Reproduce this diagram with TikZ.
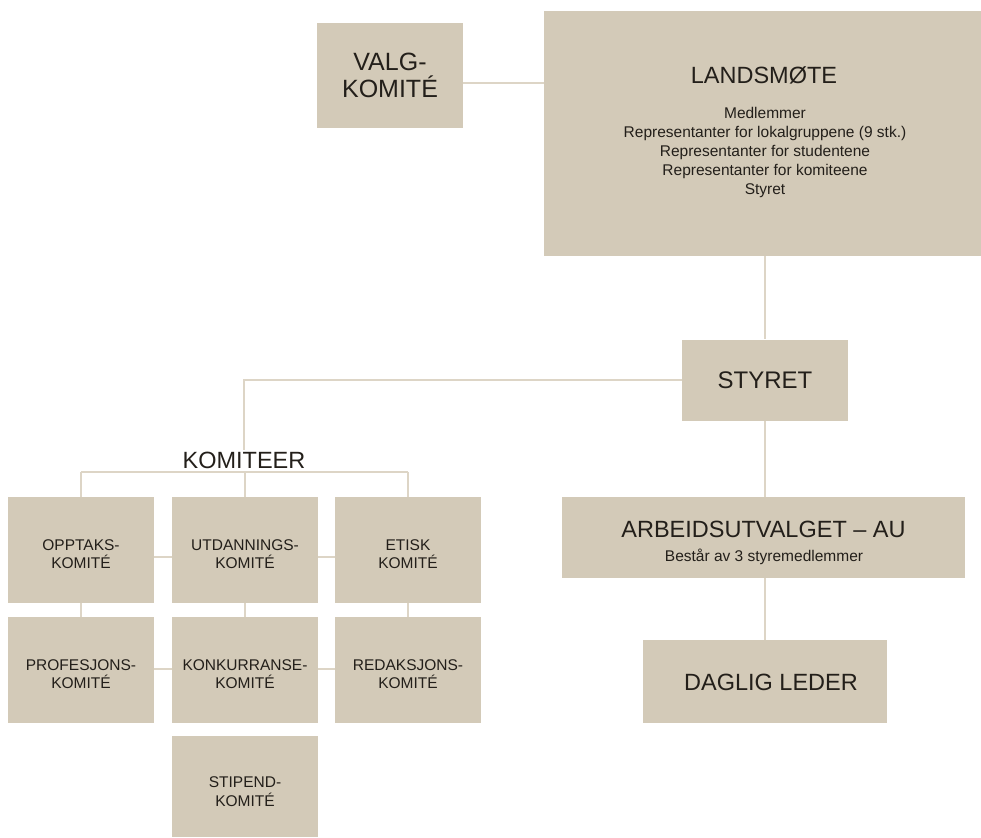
\documentclass[tikz,border=0pt]{standalone}
\usepackage{fontspec}
\setmainfont{Liberation Sans}
\definecolor{boxc}{HTML}{D3CAB8}
\definecolor{linec}{HTML}{DDD5C6}
\definecolor{txtc}{HTML}{231F1A}
\newcommand{\kombox}[5][106pt]{%
  \node[kbox, minimum height=#1] (#2) at (#3) {};
  \node[ktext] (#2-t) at ([yshift=-#4]#2.center) {#5};}
\begin{document}
\begin{tikzpicture}[x=1pt,y=-1pt,
  box/.style={fill=boxc, draw=none, inner sep=0pt, text=txtc, align=center},
  kbox/.style={box, minimum width=146pt},
  ktext/.style={text=txtc, align=center, inner sep=0pt, font=\fontsize{15.5}{18.5}\selectfont},
  conn/.style={draw=linec, line width=1.2pt}]
\useasboundingbox (0,0) rectangle (981,837);

% top
\node[box, minimum width=146pt, minimum height=105pt, font=\fontsize{25}{27}\selectfont] (valg) at (390,75.5) {VALG-\\KOMITÉ};
\node[box, minimum width=437pt, minimum height=245pt] (land) at (762.5,133.5) {};
\node[text=txtc, font=\fontsize{23.5}{26}\selectfont] (landt) at (764,75) {LANDSMØTE};
\node[text=txtc, align=center, font=\fontsize{15.5}{19}\selectfont, anchor=north] (landl) at (765,104) {Medlemmer\\Representanter for lokalgruppene (9 stk.)\\Representanter for studentene\\Representanter for komiteene\\Styret};

\node[box, minimum width=166pt, minimum height=81pt, font=\fontsize{24}{26}\selectfont] (styret) at (765,380) {STYRET};

\node[box, minimum width=403pt, minimum height=81pt] (au) at (763.5,537.5) {};
\node[text=txtc, font=\fontsize{23.5}{26}\selectfont] (aut) at (763.5,529) {ARBEIDSUTVALGET – AU};
\node[text=txtc, font=\fontsize{15.5}{18}\selectfont] (aus) at (764,557) {Består av 3 styremedlemmer};

\node[box, minimum width=244pt, minimum height=83pt] (dl) at (765,681.5) {};
\node[text=txtc, font=\fontsize{23.5}{26}\selectfont] (dlt) at (771,682) {DAGLIG LEDER};

% komiteer
\node[text=txtc, font=\fontsize{23.5}{26}\selectfont, inner sep=1pt] (komt) at (244,460) {KOMITEER};
\coordinate (kj) at (245,472);
\coordinate (kl) at (81,472);
\coordinate (kr) at (408,472);

\kombox{k11}{81,550}{4pt}{OPPTAKS-\\KOMITÉ}
\kombox{k12}{245,550}{4pt}{UTDANNINGS-\\KOMITÉ}
\kombox{k13}{408,550}{4pt}{ETISK\\KOMITÉ}
\kombox{k21}{81,670}{4pt}{PROFESJONS-\\KOMITÉ}
\kombox{k22}{245,670}{4pt}{KONKURRANSE-\\KOMITÉ}
\kombox{k23}{408,670}{4pt}{REDAKSJONS-\\KOMITÉ}
\kombox[101pt]{k32}{245,786.5}{5pt}{STIPEND-\\KOMITÉ}

% connectors
\draw[conn] (valg.east |- 0,83) -- (land.west |- 0,83);
\draw[conn] (styret.north |- land.south) -- (styret.north);
\draw[conn] (styret.west) -| (komt.north);
\draw[conn] (kl) -- (kr);
\draw[conn] (kl) -- (k11.north);
\draw[conn] (kj) -- (k12.north);
\draw[conn] (kr) -- (k13.north);
\draw[conn] (k11.south) -- (k21.north);
\draw[conn] (k12.south) -- (k22.north);
\draw[conn] (k13.south) -- (k23.north);
\draw[conn] (k11.east |- 0,557) -- (k12.west |- 0,557);
\draw[conn] (k12.east |- 0,557) -- (k13.west |- 0,557);
\draw[conn] (k21.east |- 0,669) -- (k22.west |- 0,669);
\draw[conn] (k22.east |- 0,669) -- (k23.west |- 0,669);
\draw[conn] (styret.south) -- (au.north -| styret.south);
\draw[conn] (au.south -| dl.north) -- (dl.north);
\end{tikzpicture}
\end{document}
